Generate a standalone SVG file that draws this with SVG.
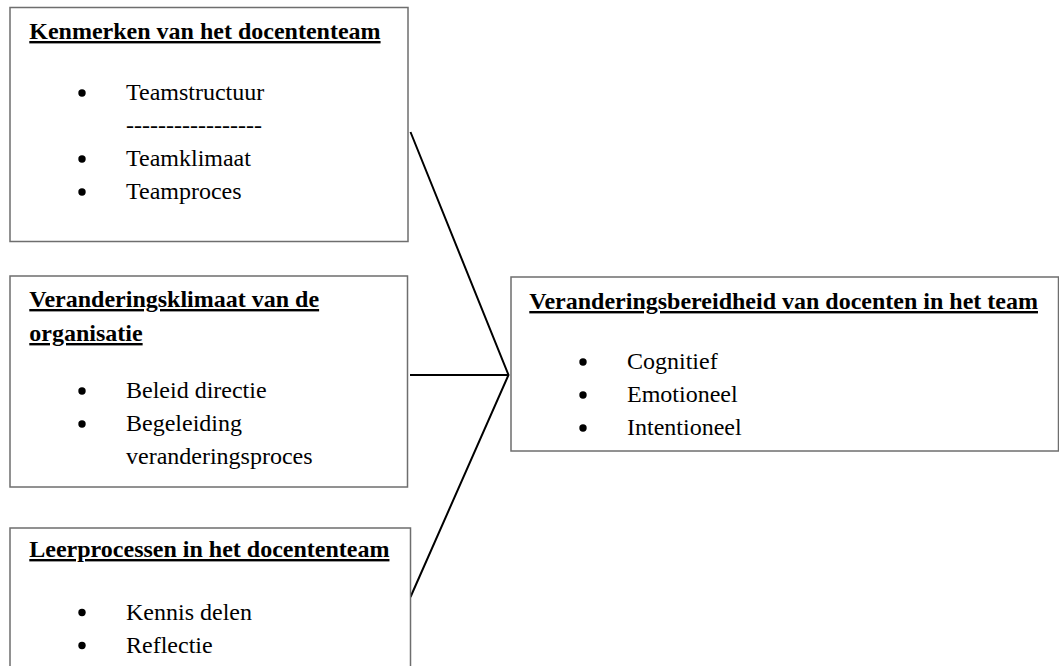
<svg xmlns="http://www.w3.org/2000/svg" width="1059" height="666" viewBox="0 0 1059 666">
<style>
.box{fill:#fff;stroke:#6e6e6e;stroke-width:1.5}
.t{font-family:"Liberation Serif","Times New Roman",serif;font-size:24px;fill:#000}
.h{font-weight:bold;text-decoration:underline}
.conn{stroke:#000;stroke-width:2;fill:none;stroke-linejoin:miter}
</style>
<defs>
<circle id="b" r="3.7" fill="#000"/>
</defs>
<rect width="1059" height="666" fill="#fff"/>
<g id="connectors">
<polyline class="conn" points="410.5,132 508.5,375 410.5,597"/>
<line class="conn" x1="410" y1="375" x2="508.5" y2="375"/>
</g>
<g id="node-kenmerken">
<rect class="box" x="10" y="7.5" width="398" height="234"/>
<text class="t h" x="29.3" y="39">Kenmerken van het docententeam</text>
<use href="#b" x="82" y="93"/>
<text class="t" x="126" y="100">Teamstructuur</text>
<text class="t" x="126" y="133">-----------------</text>
<use href="#b" x="82" y="159"/>
<text class="t" x="126" y="166">Teamklimaat</text>
<use href="#b" x="82" y="192"/>
<text class="t" x="126" y="199">Teamproces</text>
</g>
<g id="node-veranderingsklimaat">
<rect class="box" x="10" y="276" width="397.5" height="211"/>
<text class="t h" x="29.3" y="307">Veranderingsklimaat van de</text>
<text class="t h" x="29.3" y="341">organisatie</text>
<use href="#b" x="82" y="391"/>
<text class="t" x="126" y="398">Beleid directie</text>
<use href="#b" x="82" y="424"/>
<text class="t" x="126" y="431">Begeleiding</text>
<text class="t" x="126" y="464">veranderingsproces</text>
</g>
<g id="node-leerprocessen">
<rect class="box" x="10" y="528" width="400.5" height="200"/>
<text class="t h" x="29.3" y="557">Leerprocessen in het docententeam</text>
<use href="#b" x="82" y="612.5"/>
<text class="t" x="126" y="619.5">Kennis delen</text>
<use href="#b" x="82" y="645.5"/>
<text class="t" x="126" y="652.5">Reflectie</text>
</g>
<g id="node-veranderingsbereidheid">
<rect class="box" x="511" y="277" width="547.5" height="174"/>
<text class="t h" x="529.3" y="309">Veranderingsbereidheid van docenten in het team</text>
<use href="#b" x="583" y="362"/>
<text class="t" x="627" y="369">Cognitief</text>
<use href="#b" x="583" y="395"/>
<text class="t" x="627" y="402">Emotioneel</text>
<use href="#b" x="583" y="428"/>
<text class="t" x="627" y="435">Intentioneel</text>
</g>
</svg>
